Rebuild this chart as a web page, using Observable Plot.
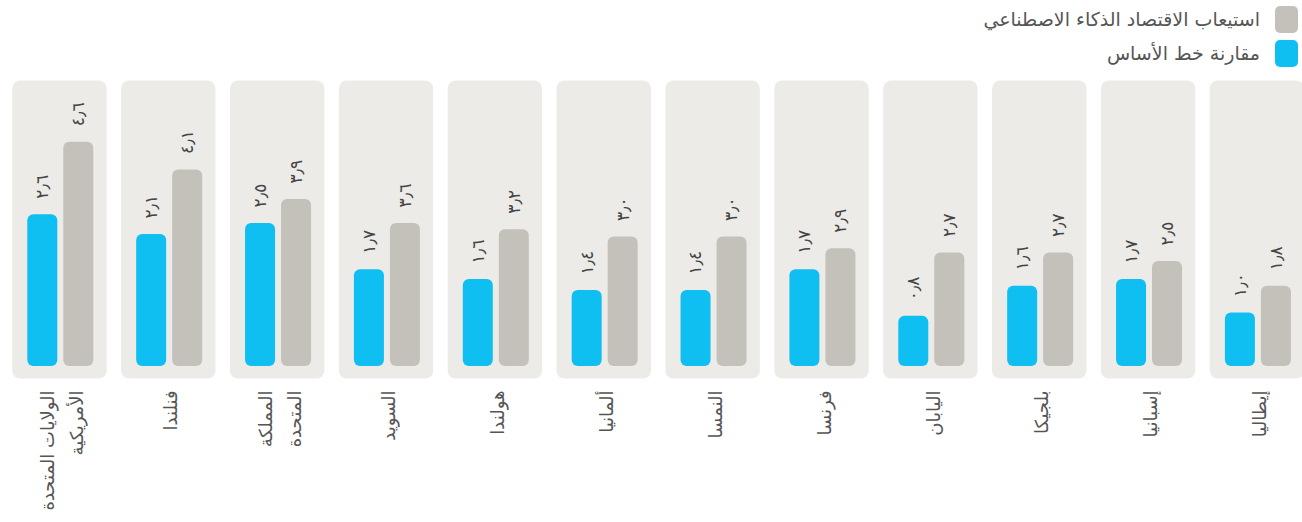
<!DOCTYPE html>
<html lang="ar">
<head>
<meta charset="utf-8">
<script src="https://cdn.jsdelivr.net/npm/d3@7"></script>
<script src="https://cdn.jsdelivr.net/npm/@observablehq/plot@0.6"></script>
<style>
  html, body { margin: 0; padding: 0; background: #ffffff; overflow: hidden; }
  #legend { height: 74px; box-sizing: border-box; padding-top: 2px; direction: rtl;
            font-family: "DejaVu Sans", sans-serif; font-size: 19px; color: #555; }
  .row { display: flex; align-items: center; height: 34px; padding-right: 4px; }
  .sw { display: inline-block; width: 23px; height: 27px; border-radius: 5px; margin-left: 15px; }
  #chart svg { display: block; }
</style>
</head>
<body>
<div id="legend"></div>
<div id="chart"></div>
<script>
// ---- data ----
const countries = ["الولايات المتحدة\nالأمريكية", "فنلندا", "المملكة\nالمتحدة", "السويد", "هولندا", "ألمانيا",
                   "النمسا", "فرنسا", "اليابان", "بلجيكا", "إسبانيا", "إيطاليا"];
const seriesNames = ["مقارنة خط الأساس", "استيعاب الاقتصاد الذكاء الاصطناعي"];
const seriesColors = ["#10bff1", "#c3c1b9"];
// printed values
const baselineValues = [2.6, 2.1, 2.5, 1.7, 1.6, 1.4, 1.4, 1.7, 0.8, 1.6, 1.7, 1.0];
const aiValues       = [4.6, 4.1, 3.9, 3.6, 3.2, 3.0, 3.0, 2.9, 2.7, 2.7, 2.5, 1.8];
// drawn bar lengths (same units)
const baselineBars = [3.12, 2.71, 2.94, 1.99, 1.79, 1.56, 1.56, 1.99, 1.03, 1.65, 1.79, 1.10];
const aiBars       = [4.61, 4.04, 3.43, 2.94, 2.81, 2.66, 2.66, 2.42, 2.33, 2.33, 2.16, 1.65];

const arDigits = "٠١٢٣٤٥٦٧٨٩";
const fmt = v => v.toFixed(1).replace(/\d/g, d => arDigits[+d]).replace(".", "٫");

const rows = [];
countries.forEach((c, i) => {
  rows.push({country: c, series: seriesNames[0], h: baselineBars[i], label: fmt(baselineValues[i])});
  rows.push({country: c, series: seriesNames[1], h: aiBars[i], label: fmt(aiValues[i])});
});
const countryRows = countries.map(c => ({country: c}));

// ---- legend ----
const legend = document.getElementById("legend");
[1, 0].forEach(k => {
  const r = document.createElement("div");
  r.className = "row";
  const sw = document.createElement("span");
  sw.className = "sw";
  sw.style.background = seriesColors[k];
  const t = document.createElement("span");
  t.textContent = seriesNames[k];
  r.appendChild(sw); r.appendChild(t);
  legend.appendChild(r);
});

// ---- chart ----
const font = "DejaVu Sans, sans-serif";
const chart = Plot.plot({
  width: 1302,
  height: 448,
  marginTop: 6,
  marginBottom: 144,
  marginLeft: 0,
  marginRight: 0,
  style: {fontFamily: font, background: "transparent"},
  fx: {domain: countries, range: [11.7, 1303.7], paddingInner: 0.133, paddingOuter: 0, round: false, axis: null},
  x: {domain: seriesNames, range: [15.6, 81.6], paddingInner: 1 / 6, paddingOuter: 0, round: false, axis: null},
  y: {domain: [0, 6], range: [292, 0], axis: null},
  color: {domain: seriesNames, range: seriesColors},
  marks: [
    Plot.frame({fill: "#ecebe8", stroke: null, rx: 8}),
    Plot.barY(rows, {fx: "country", x: "series", y: "h", fill: "series", rx: 6}),
    Plot.text(rows, {fx: "country", x: "series", y: "h", text: "label", rotate: -90,
                     textAnchor: "start", lineAnchor: "middle", dy: -16, fontSize: 17, fill: "#444"}),
    Plot.text(countryRows, {fx: "country", text: "country", frameAnchor: "bottom", rotate: -90,
                            textAnchor: "end", lineAnchor: "middle", dy: 12, fontSize: 18,
                            lineHeight: 1.6, fill: "#555"})
  ]
});
document.getElementById("chart").appendChild(chart);
</script>
</body>
</html>
